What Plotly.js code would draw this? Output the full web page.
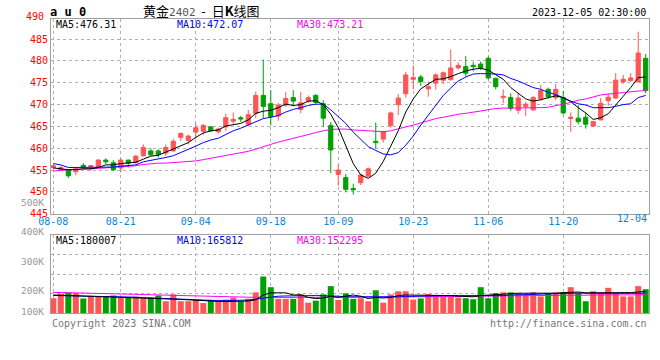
<!DOCTYPE html>
<html><head><meta charset="utf-8">
<script src="https://cdn.plot.ly/plotly-3.0.1.min.js"></script>
<style>html,body{margin:0;padding:0;background:#fff}#chart{width:660px;height:360px}</style>
</head><body><div id="chart"></div>
<script>
const dates = ['08-08','08-09','08-10','08-11','08-14','08-15','08-16','08-17','08-18','08-21','08-22','08-23','08-24','08-25','08-28','08-29','08-30','08-31',
'09-01','09-04','09-05','09-06','09-07','09-08','09-11','09-12','09-13','09-14','09-15','09-18','09-19','09-20','09-21','09-22','09-25','09-26','09-27','09-28',
'10-09','10-10','10-11','10-12','10-13','10-16','10-17','10-18','10-19','10-20','10-23','10-24','10-25','10-26','10-27','10-30','10-31',
'11-01','11-02','11-03','11-06','11-07','11-08','11-09','11-10','11-13','11-14','11-15','11-16','11-17','11-20','11-21','11-22','11-23','11-24','11-27','11-28','11-29','11-30',
'12-01','12-04','12-05'];
const openP = [455.6,455.0,455.0,454.6,456.1,455.8,455.8,457.3,456.7,455.5,457.3,456.7,458.3,459.4,459.4,458.9,459.4,462.5,461.8,463.7,
463.9,464.9,463.8,464.9,466.2,467.0,465.5,468.0,472.1,470.2,467.4,469.9,471.6,468.9,470.8,472.1,470.2,465.2,454.0,453.3,
450.8,452.1,453.6,461.6,462.1,465.2,470.0,472.5,475.8,476.3,473.6,474.9,475.6,475.7,478.4,478.7,479.0,479.3,480.6,476.0,
471.6,471.6,468.7,469.6,468.8,471.3,473.5,471.6,471.6,466.8,466.9,467.1,465.1,466.5,470.9,471.5,475.2,475.5,475.2,480.6];
const highP = [456.3,456.0,455.2,455.5,456.6,456.1,457.5,457.7,457.3,457.7,457.4,458.5,460.9,460.0,459.8,460.9,462.2,463.6,463.1,465.7,
465.6,465.1,464.7,467.9,468.2,467.4,468.8,473.0,480.3,473.3,470.4,472.9,473.3,472.9,472.1,472.4,471.0,466.0,456.3,454.1,
451.9,454.0,455.6,465.9,464.0,468.4,472.4,477.5,479.0,476.8,475.3,477.2,477.6,482.6,479.7,481.1,479.8,479.9,481.0,476.2,
473.5,472.6,472.6,470.6,472.0,474.5,473.9,474.7,473.1,468.2,469.9,468.2,466.3,471.5,472.6,477.2,476.8,477.2,486.7,481.6];
const lowP = [455.2,454.9,453.2,453.8,455.3,454.9,455.6,456.4,454.8,454.5,455.6,456.5,458.1,458.3,457.9,458.2,459.2,461.6,460.9,462.2,
463.1,463.8,463.4,464.0,465.6,466.0,465.0,466.9,466.9,465.2,466.3,469.5,469.6,468.0,470.4,470.2,464.9,454.3,451.4,449.9,
449.4,451.6,453.4,459.9,461.3,464.7,467.6,471.6,473.5,474.3,471.8,473.4,474.7,475.5,478.0,476.4,477.6,477.9,475.7,473.5,
470.3,468.6,467.9,467.4,468.6,471.0,471.3,471.0,467.7,463.8,465.5,464.5,464.9,466.4,469.7,471.3,474.8,475.2,475.1,472.6];
const closeP = [456.0,455.6,453.7,455.3,455.7,456.0,457.3,456.9,455.1,457.3,456.6,458.2,460.2,458.5,458.6,460.2,461.6,463.4,462.8,464.7,
465.2,464.0,464.4,467.0,466.6,466.7,467.7,472.1,469.6,467.3,469.9,471.4,470.8,470.4,471.6,470.5,466.9,459.6,455.0,450.6,
450.5,453.9,455.3,461.3,463.8,468.1,471.5,476.8,476.2,475.3,474.1,476.8,477.3,478.4,479.0,477.2,478.7,478.4,476.1,474.1,
471.9,469.1,471.5,470.1,471.6,473.2,471.8,473.5,468.1,467.1,466.1,465.5,466.1,470.3,471.7,475.6,475.8,476.1,481.8,473.2];
const ma5 = [455.5,455.3,455.1,455.1,455.3,455.3,455.6,456.2,456.2,456.5,456.6,456.8,457.5,458.2,458.4,459.1,459.8,460.5,461.3,462.5,
463.5,464.0,464.2,465.1,465.4,465.7,466.5,468.0,468.5,468.7,469.3,470.1,469.8,470.0,470.8,470.9,470.0,467.8,464.7,460.5,
456.5,453.9,453.1,454.3,457.0,460.5,464.0,468.3,471.3,473.6,474.8,475.8,475.9,476.4,477.1,477.7,478.1,478.3,477.9,476.9,
475.8,473.9,472.5,471.3,470.8,471.1,471.6,472.0,471.6,470.7,469.3,468.1,466.6,467.0,467.9,469.8,471.9,473.9,476.2,476.3];
const ma10 = [456.5,456.2,455.6,455.6,455.6,455.6,455.6,455.6,455.7,455.9,456.0,456.2,456.9,457.2,457.5,457.9,458.3,459.0,459.7,460.5,
461.3,461.9,462.3,463.2,464.0,464.6,465.3,466.1,466.8,467.1,467.5,468.3,468.9,469.3,469.8,470.1,470.1,468.8,467.3,465.7,
463.7,462.0,460.4,459.5,458.7,458.5,459.0,460.7,462.8,465.3,467.6,469.9,472.1,473.8,475.4,476.3,477.0,477.1,477.1,477.0,
476.8,476.0,475.4,474.6,473.9,473.5,472.8,472.3,471.5,470.8,470.2,469.9,469.3,469.3,469.3,469.6,470.0,470.2,471.6,472.1];
const ma30 = [454.8,455.0,455.1,455.2,455.2,455.3,455.4,455.5,455.6,455.7,455.8,456.0,456.3,456.5,456.6,456.6,456.7,456.8,456.9,457.1,
457.4,457.7,458.0,458.3,458.6,458.9,459.3,459.8,460.4,460.9,461.4,461.9,462.3,462.7,463.2,463.6,464.0,464.3,464.4,464.4,
464.2,464.1,463.9,463.8,463.8,464.0,464.5,464.9,465.3,465.8,466.3,466.8,467.1,467.5,467.8,468.0,468.3,468.6,468.9,469.1,
469.2,469.2,469.2,469.2,469.2,469.3,469.4,469.7,470.1,470.5,471.0,471.3,471.8,472.2,472.4,472.6,472.8,472.9,473.1,473.2];
// volume in thousands
const volume = [123,158,169,166,121,138,138,138,146,126,126,135,123,129,146,98,155,98,98,109,
83,109,109,112,129,98,118,172,304,215,118,118,118,155,86,103,155,224,109,164,
118,123,98,189,86,155,181,181,112,121,158,146,146,138,129,123,115,215,123,166,
172,172,166,152,172,138,166,172,172,215,166,98,181,166,210,166,138,138,224,198];
const volMA5 = [150,148,146,145,145,140,138,137,136,135,132,128,125,122,120,118,115,113,110,106,
100,98,96,95,96,98,100,110,150,168,170,168,150,152,130,120,125,140,130,140,
150,140,120,130,125,130,145,150,150,145,145,150,150,145,140,135,135,145,150,150,
155,165,165,165,165,160,160,165,170,175,175,168,168,170,170,168,170,170,175,180];
const volMA10 = [146,145,144,143,142,142,140,138,136,135,134,132,128,125,122,118,115,112,110,108,
106,104,103,103,104,105,108,115,125,135,140,142,144,146,146,145,144,145,140,135,
135,135,133,132,130,132,135,138,140,142,145,146,146,146,145,145,144,143,142,142,
145,150,152,155,158,158,160,162,163,165,166,165,164,163,163,163,164,164,165,166];
const volMA30 = [172,171,170,169,168,167,166,164,162,160,158,156,154,152,150,148,146,144,142,140,
138,136,135,134,133,132,131,130,130,131,131,131,131,131,130,130,130,131,130,130,
130,130,130,130,130,130,131,132,133,134,135,136,137,137,138,138,139,140,140,141,
142,143,144,145,146,146,147,147,148,148,149,149,150,150,150,151,151,151,152,152];
const tickLabels = ['08-08','08-21','09-04','09-18','10-09','10-23','11-06','11-20'];
const lastLabel = '12-04';
const priceTicks = [445,450,455,460,465,470,475,480,485];
const volLabels = ['500K','400K','300K','200K','100K'];
const volLabelY = [202,231,261,290,311];

const RED = '#ff5555', GREEN = '#00a000';
const MONO = 'DejaVu Sans Mono, Liberation Mono, monospace';
const W = 660, H = 360, L = 51, R = 11, T = 19, B = 47;
const pw = W - L - R, ph = H - T - B;
const px = x => (x - L) / pw;
const py = y => (H - B - y) / ph;

const volColors = closeP.map((c, i) => c >= openP[i] ? RED : GREEN);

const traces = [
  {type:'candlestick', x:dates, open:openP, high:highP, low:lowP, close:closeP, xaxis:'x', yaxis:'y',
   increasing:{line:{color:RED, width:1}, fillcolor:RED},
   decreasing:{line:{color:GREEN, width:1}, fillcolor:GREEN},
   whiskerwidth:0, hoverinfo:'skip'},
  {type:'scatter', mode:'lines', x:dates, y:ma30, line:{color:'#ff00ff', width:1}, xaxis:'x', yaxis:'y', hoverinfo:'skip'},
  {type:'scatter', mode:'lines', x:dates, y:ma10, line:{color:'#0000ff', width:1}, xaxis:'x', yaxis:'y', hoverinfo:'skip'},
  {type:'scatter', mode:'lines', x:dates, y:ma5, line:{color:'#000000', width:1}, xaxis:'x', yaxis:'y', hoverinfo:'skip'},
  {type:'bar', x:dates, y:volume, marker:{color:volColors, line:{width:0}}, xaxis:'x2', yaxis:'y2', hoverinfo:'skip'},
  {type:'scatter', mode:'lines', x:dates, y:volMA30, line:{color:'#ff00ff', width:1}, xaxis:'x2', yaxis:'y2', hoverinfo:'skip'},
  {type:'scatter', mode:'lines', x:dates, y:volMA10, line:{color:'#0000ff', width:1}, xaxis:'x2', yaxis:'y2', hoverinfo:'skip'},
  {type:'scatter', mode:'lines', x:dates, y:volMA5, line:{color:'#000000', width:1}, xaxis:'x2', yaxis:'y2', hoverinfo:'skip'}
];

const gridStyle = {showgrid:true, gridcolor:'#b0b0b0', griddash:'dot', gridwidth:1, zeroline:false,
  showline:true, linecolor:'#a0a0a0', linewidth:1, mirror:true, ticks:'', fixedrange:true};

const ann = [];
function txt(text, x, y, color, size, anchor) {
  ann.push({text:text, xref:'paper', yref:'paper', x:px(x), y:py(y), xanchor:anchor||'left', yanchor:'middle',
    showarrow:false, font:{family:MONO, size:size||10, color:color||'#000'}});
}
txt('<b>a u 0</b>', 48, 12, '#000', 12);
ann.push({text:'黄金<span style="font-family:DejaVu Sans Mono;color:#555;font-size:11px">2402</span>&nbsp;&nbsp;-&nbsp;&nbsp;日<b>K</b>线图', xref:'paper', yref:'paper',
  x:px(201), y:py(10), xanchor:'center', yanchor:'middle', showarrow:false, font:{family:'Noto Sans CJK SC', size:13, color:'#000'}});
txt('2023-12-05 02:30:00', 648, 12, '#000', 10, 'right');
txt('MA5:476.31', 54, 24, '#000', 10);
txt('MA10:472.07', 175, 24, '#0000ff', 10);
txt('MA30:473.21', 295, 24, '#ff00ff', 10);
txt('490', 46, 16, '#ff0000', 10, 'right');
txt('MA5:180007', 54, 241, '#000', 10);
txt('MA10:165812', 175, 241, '#0000ff', 10);
txt('MA30:152295', 295, 241, '#ff00ff', 10);
volLabels.forEach((t, i) => txt(t, 46, volLabelY[i], '#999', 9.5, 'right'));
txt(lastLabel, 649, 218, '#0a84d6', 10, 'right');
txt('Copyright 2023 SINA.COM', 50, 323, '#777', 10);
txt('http://finance.sina.com.cn', 649, 323, '#777', 10, 'right');

const layout = {
  width:W, height:H, margin:{l:L, r:R, t:T, b:B}, paper_bgcolor:'#fff', plot_bgcolor:'#fff',
  showlegend:false, boxgap:0.2, bargap:0.2, dragmode:false,
  xaxis: Object.assign({}, gridStyle, {type:'category', range:[-0.31, 79.44], anchor:'y',
    tickmode:'array', tickvals:tickLabels, ticktext:tickLabels, ticklabelstandoff:-2,
    tickfont:{family:MONO, size:10, color:'#0a84d6'}, rangeslider:{visible:false}}),
  yaxis: Object.assign({}, gridStyle, {domain:[py(213.8), 1], range:[445, 489.6],
    tickmode:'array', tickvals:priceTicks, tickfont:{family:MONO, size:10, color:'#ff0000'}}),
  xaxis2: Object.assign({}, gridStyle, {type:'category', matches:'x', anchor:'y2', showticklabels:false,
    tickmode:'array', tickvals:tickLabels}),
  yaxis2: Object.assign({}, gridStyle, {domain:[0, py(235)], range:[0, 650], showticklabels:false,
    tickmode:'array', tickvals:[162.5, 325, 487.5]}),
  annotations: ann
};
Plotly.newPlot('chart', traces, layout, {staticPlot:true, displayModeBar:false});
</script></body></html>
